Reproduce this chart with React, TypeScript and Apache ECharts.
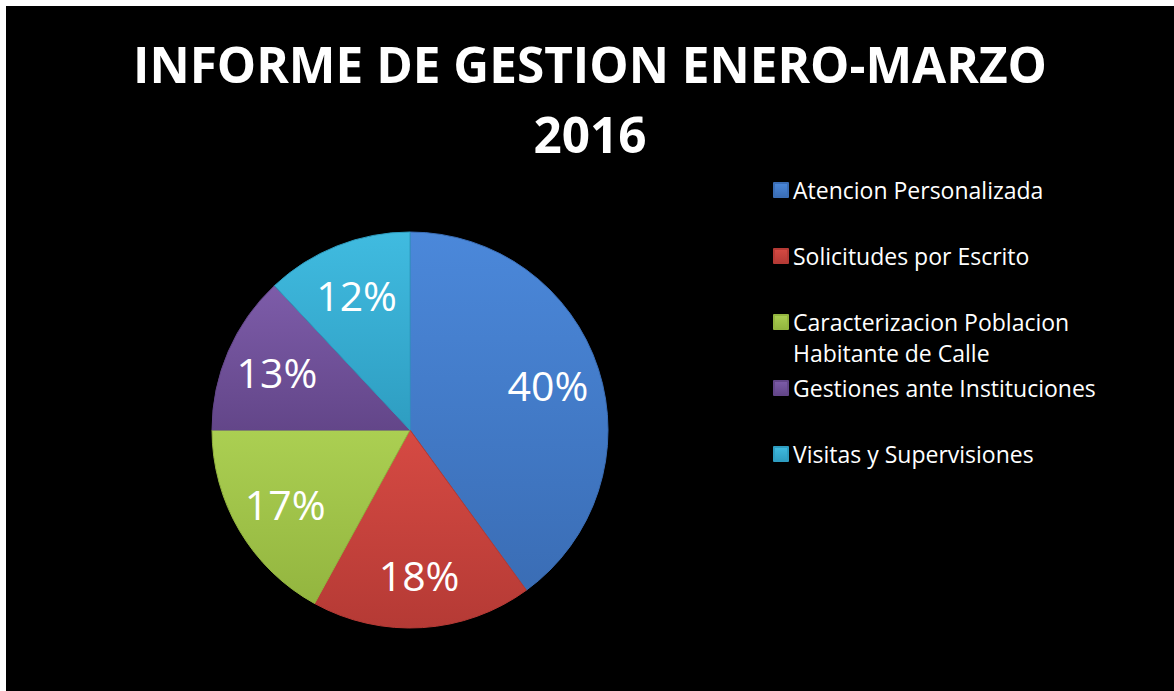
import React, { useEffect, useRef } from "react";
import * as echarts from "echarts";

const titleLines = ["INFORME DE GESTION ENERO-MARZO", "2016"];
const categories = [
  "Atencion Personalizada",
  "Solicitudes por Escrito",
  "Caracterizacion Poblacion Habitante de Calle",
  "Gestiones ante Instituciones",
  "Visitas y Supervisiones",
];
const percentValues = [40, 18, 17, 13, 12];
const topColors = ["#4b88da", "#d64a43", "#abcf52", "#7d5ca9", "#40bbe0"];
const bottomColors = ["#3a6db5", "#b53a35", "#93b53f", "#634689", "#2e9dc1"];

function grad(i: number) {
  return {
    type: "linear",
    x: 0,
    y: 0,
    x2: 0,
    y2: 1,
    colorStops: [
      { offset: 0, color: topColors[i] },
      { offset: 1, color: bottomColors[i] },
    ],
  };
}

export default function App() {
  const ref = useRef<HTMLDivElement>(null);
  useEffect(() => {
    if (!ref.current) return;
    const chart = echarts.init(ref.current, null, { renderer: "svg" });
    const font = "'Open Sans', 'DejaVu Sans', sans-serif";
    const data = categories.map((name, i) => ({
      name,
      value: percentValues[i],
      itemStyle: { color: grad(i) as any, borderColor: bottomColors[i], borderWidth: 1 },
    }));
    const legendText = {
      color: "#ffffff",
      fontFamily: font,
      fontSize: 23,
      lineHeight: 31,
    };
    const legendBase = {
      orient: "vertical" as const,
      left: 767,
      padding: 0,
      itemWidth: 14,
      itemHeight: 14,
      itemGap: 35,
      icon: "rect",
      selectedMode: false,
      textStyle: legendText,
    };
    chart.setOption({
      animation: false,
      backgroundColor: "#000000",
      title: {
        text: titleLines.join("\n"),
        left: "center",
        top: 23,
        padding: [0, 0, 0, 20],
        textStyle: {
          color: "#ffffff",
          fontFamily: font,
          fontWeight: "bold",
          fontSize: 49.5,
          lineHeight: 70,
        },
      },
      legend: [
        { ...legendBase, top: 168.5, data: [categories[0], categories[1]] },
        {
          ...legendBase,
          top: 269.5,
          data: [categories[2]],
          formatter: () => "\nCaracterizacion Poblacion\nHabitante de Calle",
        },
        { ...legendBase, top: 366.5, data: [categories[3], categories[4]] },
      ],
      series: [
        {
          type: "pie",
          center: [404, 424],
          radius: [0, 198],
          startAngle: 90,
          clockwise: true,
          label: { show: false },
          labelLine: { show: false },
          emphasis: { disabled: true },
          data,
        },
        {
          type: "pie",
          center: [404, 424],
          radius: [0, 284],
          startAngle: 90,
          clockwise: true,
          silent: true,
          itemStyle: { color: "rgba(0,0,0,0)", borderWidth: 0 },
          label: {
            show: true,
            position: "inside",
            color: "#ffffff",
            fontFamily: font,
            fontSize: 41,
            formatter: (p: any) => `${p.value}%`,
          },
          labelLine: { show: false },
          emphasis: { disabled: true },
          data: categories.map((name, i) => ({ name, value: percentValues[i] })),
        },
      ],
    });
    return () => chart.dispose();
  }, []);
  return (
    <div
      ref={ref}
      style={{ position: "fixed", left: 6, top: 6, width: 1168, height: 685 }}
    />
  );
}
